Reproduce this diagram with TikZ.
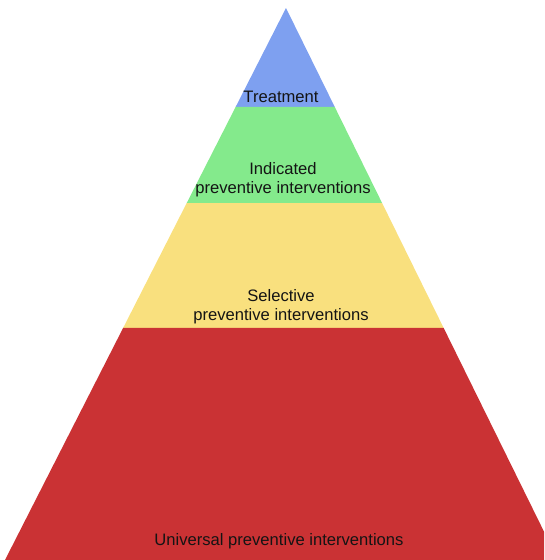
\documentclass[tikz,border=0pt]{standalone}
\usepackage{fontspec}
\setmainfont{Liberation Sans}
\usetikzlibrary{calc,positioning}

\definecolor{treatblue}{RGB}{126,160,240}
\definecolor{indgreen}{RGB}{132,234,140}
\definecolor{selyellow}{RGB}{249,224,126}
\definecolor{unired}{RGB}{202,50,52}

\begin{document}
\begin{tikzpicture}[x=1pt, y=-1pt,
        level/.style={text=black!92, align=center, anchor=base, inner sep=0pt,
          font=\fontsize{16.6}{19}\selectfont}]
        \useasboundingbox (0,0) rectangle (544,560);
        \clip (0,0) rectangle (544,560);

        % corners of the pyramid
        \coordinate (top) at (286,8);
        \coordinate (bl) at (5,560);
        \coordinate (br) at (558,560);

        % band boundaries
        \coordinate (l1) at ($(top)!0.1793!(bl)$);
        \coordinate (r1) at ($(top)!0.1793!(br)$);
        \coordinate (l2) at ($(top)!0.3533!(bl)$);
        \coordinate (r2) at ($(top)!0.3533!(br)$);
        \coordinate (l3) at ($(top)!0.5797!(bl)$);
        \coordinate (r3) at ($(top)!0.5797!(br)$);

        \fill[treatblue] (top) -- (l1) -- (r1) -- cycle;
        \fill[indgreen] (l1) -- (l2) -- (r2) -- (r1) -- cycle;
        \fill[selyellow] (l2) -- (l3) -- (r3) -- (r2) -- cycle;
        \fill[unired] (l3) -- (bl) -- (br) -- (r3) -- cycle;

        \node[level] (treat) at (281,102) {Treatment};
        \node[level] (ind) at (283,193) {Indicated\\preventive interventions};
        \node[level] (sel) at (281,320) {Selective\\preventive interventions};
        \node[level] (uni) at (279,545) {Universal preventive interventions};
\end{tikzpicture}
\end{document}
